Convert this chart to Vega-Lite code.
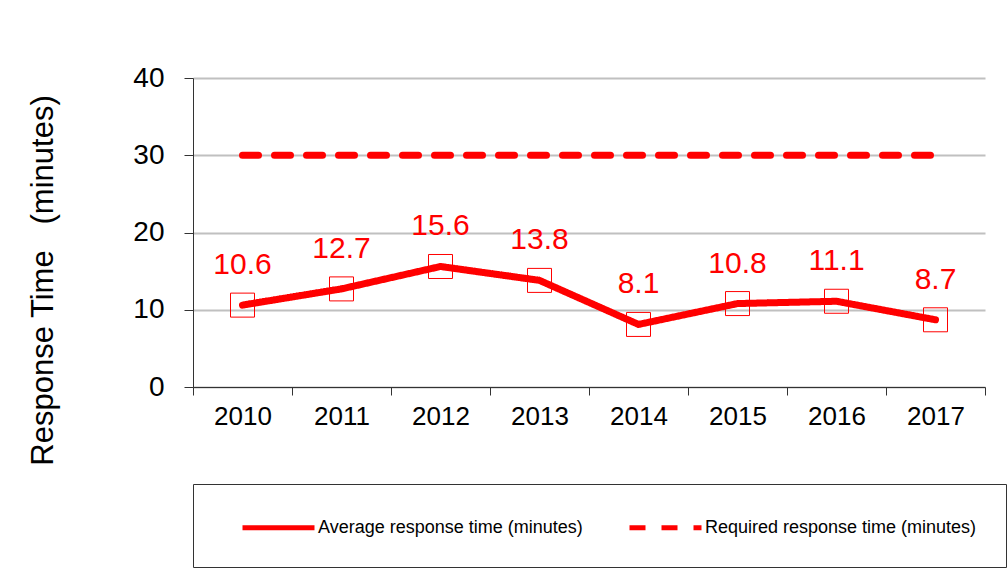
{
  "$schema": "https://vega.github.io/schema/vega-lite/v6.json",
  "width": 792,
  "height": 309,
  "autosize": {"type": "none"},
  "padding": {"left": 193, "top": 78, "right": 23, "bottom": 199},
  "background": "white",
  "config": {
    "view": {"stroke": null},
    "font": "Liberation Sans",
    "axis": {"labelFont": "Liberation Sans", "titleFont": "Liberation Sans", "labelColor": "#000", "titleColor": "#000"}
  },
  "data": {
    "values": [
      {"year": "2010", "series": "Average response time (minutes)", "value": 10.6},
      {"year": "2011", "series": "Average response time (minutes)", "value": 12.7},
      {"year": "2012", "series": "Average response time (minutes)", "value": 15.6},
      {"year": "2013", "series": "Average response time (minutes)", "value": 13.8},
      {"year": "2014", "series": "Average response time (minutes)", "value": 8.1},
      {"year": "2015", "series": "Average response time (minutes)", "value": 10.8},
      {"year": "2016", "series": "Average response time (minutes)", "value": 11.1},
      {"year": "2017", "series": "Average response time (minutes)", "value": 8.7},
      {"year": "2010", "series": "Required response time (minutes)", "value": 30},
      {"year": "2011", "series": "Required response time (minutes)", "value": 30},
      {"year": "2012", "series": "Required response time (minutes)", "value": 30},
      {"year": "2013", "series": "Required response time (minutes)", "value": 30},
      {"year": "2014", "series": "Required response time (minutes)", "value": 30},
      {"year": "2015", "series": "Required response time (minutes)", "value": 30},
      {"year": "2016", "series": "Required response time (minutes)", "value": 30},
      {"year": "2017", "series": "Required response time (minutes)", "value": 30}
    ]
  },
  "encoding": {
    "x": {
      "field": "year", "type": "ordinal",
      "scale": {"type": "band", "paddingInner": 0, "paddingOuter": 0},
      "axis": {
        "title": null, "labelAngle": 0, "labelFontSize": 26, "labelPadding": 8,
        "tickBand": "extent", "tickSize": 8, "tickColor": "#333", "domainColor": "#333",
        "grid": false
      }
    },
    "y": {
      "field": "value", "type": "quantitative",
      "scale": {"domain": [0, 40], "nice": false},
      "axis": {
        "values": [0, 10, 20, 30, 40], "labelFontSize": 28, "labelPadding": 20,
        "tickSize": 9, "tickColor": "#333", "domainColor": "#333",
        "gridColor": "#c0c0c0", "gridWidth": 2,
        "title": "Response Time\u00a0\u00a0\u00a0(minutes)",
        "titleFontSize": 31, "titleFontWeight": "normal", "titleAngle": -90,
        "titleX": -150, "titleY": 202, "titleAlign": "center", "titleBaseline": "middle"
      }
    }
  },
  "layer": [
    {
      "mark": {"type": "line", "strokeWidth": 7, "strokeCap": "round", "strokeJoin": "round"},
      "encoding": {
        "color": {
          "field": "series", "type": "nominal",
          "scale": {"domain": ["Average response time (minutes)", "Required response time (minutes)"], "range": ["#ff0000", "#ff0000"]},
          "legend": {
            "title": null, "orient": "none", "legendX": 0, "legendY": 406, "direction": "horizontal",
            "strokeColor": "#333", "padding": 29, "symbolOffset": 42,
            "symbolType": "M-3,0H3", "symbolSize": 576, "symbolStrokeWidth": 5,
            "labelFontSize": 18, "labelFont": "Liberation Sans", "labelColor": "#000", "labelOffset": 25,
            "columnPadding": 26, "labelLimit": 400
          }
        },
        "strokeDash": {
          "field": "series", "type": "nominal",
          "scale": {"domain": ["Average response time (minutes)", "Required response time (minutes)"], "range": [[1, 0], [16, 16]]},
          "legend": {
            "title": null, "orient": "none", "legendX": 0, "legendY": 406, "direction": "horizontal",
            "strokeColor": "#333", "padding": 29, "symbolOffset": 42,
            "symbolType": "M-3,0H3", "symbolSize": 576, "symbolStrokeWidth": 5,
            "labelFontSize": 18, "labelFont": "Liberation Sans", "labelColor": "#000", "labelOffset": 25,
            "columnPadding": 26, "labelLimit": 400
          }
        }
      }
    },
    {
      "transform": [{"filter": "datum.series == 'Average response time (minutes)'"}],
      "mark": {"type": "point", "shape": "square", "size": 576, "filled": false, "stroke": "#ff0000", "strokeWidth": 1, "opacity": 1}
    },
    {
      "transform": [{"filter": "datum.series == 'Average response time (minutes)'"}],
      "mark": {"type": "text", "dy": -40, "fontSize": 30, "color": "#ff0000", "font": "Liberation Sans"},
      "encoding": {"text": {"field": "value", "type": "quantitative", "format": ".1f"}}
    }
  ]
}
